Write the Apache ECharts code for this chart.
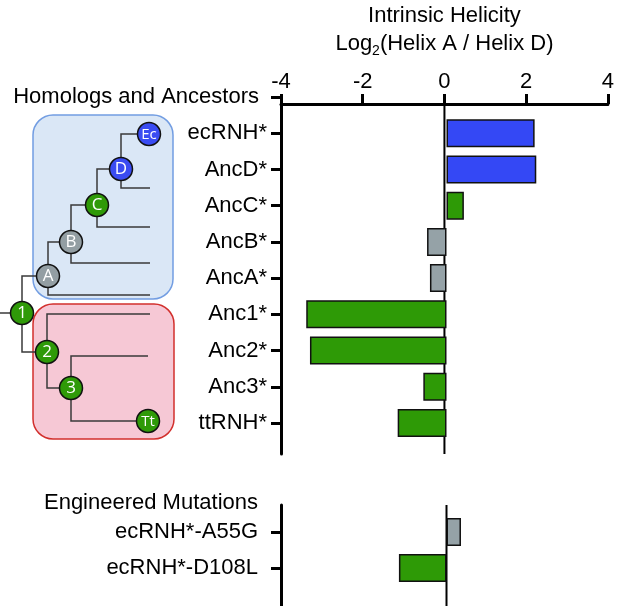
<!DOCTYPE html>
<html>
<head>
<meta charset="utf-8">
<script src="https://cdn.jsdelivr.net/npm/echarts@6/dist/echarts.min.js"></script>
<style>html,body{margin:0;padding:0;background:#fff;}#c{width:617px;height:606px;}</style>
</head>
<body>
<div id="c"></div>
<script>
// ---- data ----
const homologHeader = 'Homologs and Ancestors';
const homologCats = ['ecRNH*', 'AncD*', 'AncC*', 'AncB*', 'AncA*', 'Anc1*', 'Anc2*', 'Anc3*', 'ttRNH*'];
const homologVals = [2.13, 2.17, 0.42, -0.47, -0.40, -3.39, -3.30, -0.56, -1.18];
const homologClade = ['blue', 'blue', 'green', 'gray', 'gray', 'green', 'green', 'green', 'green'];
const mutantHeader = 'Engineered Mutations';
const mutantCats = ['ecRNH*-A55G', 'ecRNH*-D108L'];
const mutantVals = [0.35, -1.15];
const mutantClade = ['gray', 'green'];
const xMin = -4, xMax = 4, xInterval = 2;

// ---- styles ----
const FONT = 'Liberation Sans, Arial, sans-serif';
const palette = { blue: '#3448f5', green: '#2e9a06', gray: '#95a2a7' };
const nodePalette = { blue: '#3a4cf2', green: '#2f9a08', gray: '#939ea3' };

function barData(vals, clades) {
  return vals.map((v, i) => ({
    value: v,
    itemStyle: { color: palette[clades[i]], borderColor: '#111', borderWidth: 1.5 }
  }));
}

const chart = echarts.init(document.getElementById('c'), null, { renderer: 'canvas' });

const hiddenX = (gi) => ({ type: 'value', gridIndex: gi, min: xMin, max: xMax, interval: xInterval, show: false });
const lineOnlyY = (gi) => ({
  type: 'value', gridIndex: gi, min: 0, max: 1, inverse: true, position: 'left',
  axisLine: { show: true, onZero: false, lineStyle: { color: '#000', width: 3 } },
  axisTick: { show: false }, axisLabel: { show: false }, splitLine: { show: false }
});
const catY = (gi, data, margin, formatter) => ({
  type: 'category', gridIndex: gi, data: data, inverse: true, boundaryGap: false, position: 'left',
  axisLine: { show: false, onZero: false },
  axisTick: { show: true, length: 10, interval: 0, lineStyle: { color: '#000', width: 3 } },
  axisLabel: {
    interval: 0, fontSize: 22, color: '#000', fontFamily: FONT, margin: margin,
    formatter: formatter,
    rich: { h: { fontSize: 22, color: '#000', fontFamily: FONT, padding: [0, 8, 0, 0] } }
  },
  splitLine: { show: false }
});

// tree illustration
const treeLine = { stroke: '#3a3a3a', lineWidth: 1.5, fill: null };
const treePaths = [
  [[0, 313], [14, 313]],
  [[48, 276], [22, 276], [22, 352], [47, 352]],
  [[71, 242], [48, 242], [48, 295], [150, 295]],
  [[97, 205], [71, 205], [71, 263], [150, 263]],
  [[121, 169], [97, 169], [97, 227], [150, 227]],
  [[149, 134], [121, 134], [121, 188], [150, 188]],
  [[150, 314], [47, 314], [47, 388], [71, 388]],
  [[148, 356], [71, 356], [71, 421], [148, 421]]
];
const treeNodes = [
  { x: 149, y: 134, t: 'Ec', c: 'blue', fs: 15 },
  { x: 121, y: 169, t: 'D', c: 'blue', fs: 17 },
  { x: 97, y: 205, t: 'C', c: 'green', fs: 17 },
  { x: 71, y: 242, t: 'B', c: 'gray', fs: 17 },
  { x: 48, y: 276, t: 'A', c: 'gray', fs: 17 },
  { x: 22, y: 313, t: '1', c: 'green', fs: 17 },
  { x: 47, y: 352, t: '2', c: 'green', fs: 17 },
  { x: 71, y: 388, t: '3', c: 'green', fs: 17 },
  { x: 148, y: 421, t: 'Tt', c: 'green', fs: 15 }
];
const graphics = [
  { type: 'rect', shape: { x: 33, y: 115, width: 140, height: 184, r: 20 },
    style: { fill: '#dae7f6', stroke: '#729de2', lineWidth: 1.5 }, z: 1 },
  { type: 'rect', shape: { x: 33, y: 304, width: 141, height: 135, r: 20 },
    style: { fill: '#f6c8d5', stroke: '#d22f2c', lineWidth: 1.5 }, z: 1 }
];
treePaths.forEach(p => graphics.push({ type: 'polyline', shape: { points: p }, style: treeLine, z: 2 }));
treeNodes.forEach(n => {
  graphics.push({ type: 'circle', shape: { cx: n.x, cy: n.y, r: 11.5 },
    style: { fill: nodePalette[n.c], stroke: '#111', lineWidth: 1.5 }, z: 3 });
  graphics.push({ type: 'text', x: n.x, y: n.y + 0.5,
    style: { text: n.t, fill: '#fff', font: n.fs + 'px "Open Sans", sans-serif', align: 'center', verticalAlign: 'middle' }, z: 4 });
});

const option = {
  animation: false,
  backgroundColor: '#fff',
  textStyle: { fontFamily: FONT },
  title: {
    text: mutantHeader, right: 359, top: 492, padding: 0,
    textStyle: { fontSize: 22, fontWeight: 'normal', color: '#000', fontFamily: FONT }
  },
  grid: [
    { left: 281, right: 5, top: 97, height: 357 },
    { left: 281, right: 5, top: 97, height: 326 },
    { left: 281, right: 5, top: 505, height: 101 },
    { left: 281, right: 5, top: 532, height: 36 }
  ],
  xAxis: [
    {
      type: 'value', gridIndex: 0, min: xMin, max: xMax, interval: xInterval, position: 'top',
      axisLine: { show: true, onZero: false, lineStyle: { color: '#000', width: 3 } },
      axisTick: { show: true, length: 10, lineStyle: { color: '#000', width: 3 } },
      axisLabel: { fontSize: 22, color: '#000', fontFamily: FONT, margin: 11 },
      splitLine: { show: false },
      name: '{t|Intrinsic Helicity}\n{t|Log}{s|2}{t|(Helix A / Helix D)}',
      nameLocation: 'middle', nameGap: 46,
      nameTextStyle: {
        rich: {
          t: { fontSize: 22, lineHeight: 28, color: '#000', fontFamily: FONT },
          s: { fontSize: 14, lineHeight: 12, verticalAlign: 'bottom', color: '#000', fontFamily: FONT }
        }
      }
    },
    hiddenX(1), hiddenX(2), hiddenX(3)
  ],
  yAxis: [
    lineOnlyY(0),
    catY(1, [homologHeader].concat(homologCats), 14, (v, i) => (i === 0 ? '{h|' + v + '}' : v)),
    lineOnlyY(2),
    catY(3, mutantCats, 23, (v) => v)
  ],
  series: [
    { type: 'line', xAxisIndex: 0, yAxisIndex: 0, data: [[0, 0], [0, 1]], symbol: 'none',
      lineStyle: { color: '#000', width: 2 }, z: 1, silent: true },
    { type: 'line', xAxisIndex: 2, yAxisIndex: 2, data: [[0, 0], [0, 1]], symbol: 'none',
      lineStyle: { color: '#000', width: 2 }, z: 1, silent: true },
    { type: 'bar', xAxisIndex: 1, yAxisIndex: 1, barWidth: 28, z: 3,
      data: ['-'].concat(barData(homologVals, homologClade)) },
    { type: 'bar', xAxisIndex: 3, yAxisIndex: 3, barWidth: 28, z: 3,
      data: barData(mutantVals, mutantClade) }
  ],
  graphic: graphics
};
chart.setOption(option);
</script>
</body>
</html>
